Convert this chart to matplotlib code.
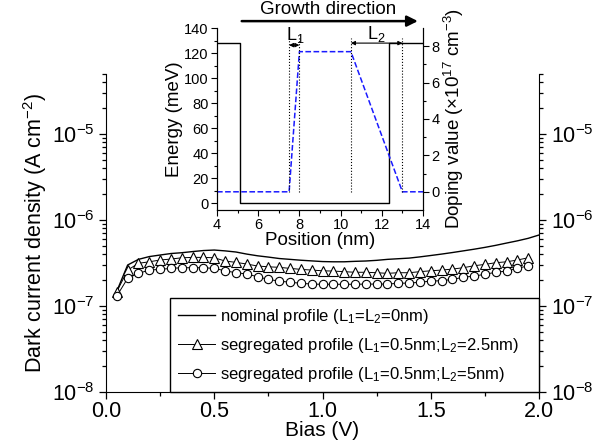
import matplotlib
matplotlib.use("Agg")
import matplotlib.pyplot as plt
import numpy as np

plt.rcParams['font.family'] = ['Liberation Sans', 'DejaVu Sans']
plt.rcParams['mathtext.fontset'] = 'custom'
plt.rcParams['mathtext.rm'] = 'Liberation Sans'
plt.rcParams['mathtext.it'] = 'Liberation Sans:italic'
plt.rcParams['mathtext.bf'] = 'Liberation Sans:bold'

# main chart data: bias (V) and dark current density (A cm^-2)
bias = [0.05, 0.10, 0.15, 0.20, 0.25, 0.30, 0.35, 0.40, 0.45, 0.50,
        0.55, 0.60, 0.65, 0.70, 0.75, 0.80, 0.85, 0.90, 0.95, 1.00,
        1.05, 1.10, 1.15, 1.20, 1.25, 1.30, 1.35, 1.40, 1.45, 1.50,
        1.55, 1.60, 1.65, 1.70, 1.75, 1.80, 1.85, 1.90, 1.95, 2.00]
nominal = [1.49e-7, 3.00e-7, 3.49e-7, 3.76e-7, 3.92e-7, 4.08e-7, 4.17e-7, 4.30e-7, 4.42e-7, 4.48e-7,
           4.38e-7, 4.25e-7, 4.02e-7, 3.84e-7, 3.71e-7, 3.57e-7, 3.49e-7, 3.41e-7, 3.35e-7, 3.29e-7,
           3.27e-7, 3.27e-7, 3.31e-7, 3.34e-7, 3.40e-7, 3.49e-7, 3.55e-7, 3.61e-7, 3.73e-7, 3.87e-7,
           4.02e-7, 4.19e-7, 4.38e-7, 4.58e-7, 4.81e-7, 5.08e-7, 5.40e-7, 5.73e-7, 6.13e-7, 6.70e-7]
bias_seg = bias[:-1]
seg_25 = [1.47e-7, 2.62e-7, 3.14e-7, 3.27e-7, 3.43e-7, 3.52e-7, 3.64e-7, 3.68e-7, 3.68e-7, 3.64e-7,
          3.34e-7, 3.22e-7, 3.08e-7, 2.92e-7, 2.86e-7, 2.82e-7, 2.74e-7, 2.67e-7, 2.62e-7, 2.57e-7,
          2.55e-7, 2.51e-7, 2.47e-7, 2.47e-7, 2.44e-7, 2.40e-7, 2.44e-7, 2.44e-7, 2.51e-7, 2.57e-7,
          2.62e-7, 2.69e-7, 2.79e-7, 2.94e-7, 3.05e-7, 3.19e-7, 3.27e-7, 3.43e-7, 3.64e-7]
seg_5 = [1.31e-7, 2.10e-7, 2.40e-7, 2.62e-7, 2.67e-7, 2.74e-7, 2.79e-7, 2.79e-7, 2.79e-7, 2.74e-7,
         2.57e-7, 2.44e-7, 2.36e-7, 2.19e-7, 2.04e-7, 1.95e-7, 1.89e-7, 1.84e-7, 1.80e-7, 1.79e-7,
         1.79e-7, 1.79e-7, 1.79e-7, 1.80e-7, 1.80e-7, 1.80e-7, 1.84e-7, 1.85e-7, 1.89e-7, 1.95e-7,
         1.97e-7, 2.04e-7, 2.16e-7, 2.23e-7, 2.34e-7, 2.47e-7, 2.55e-7, 2.74e-7, 2.94e-7]

# inset data: band profile and doping profile
pos_band = [4, 5.1, 5.1, 12.35, 12.35, 14]
energy = [128, 128, 0, 0, 128, 128]
pos_dop = [4, 7.5, 8.0, 10.5, 13.0, 14]
doping = [0, 0, 7.7, 7.7, 0, 0]
marks = [7.5, 8.0, 10.5, 13.0]

fig = plt.figure(figsize=(6.08, 4.47), dpi=100)
ax = fig.add_axes([106/608, 1-392/447, 433/608, 318/447])

ax.plot(bias, nominal, '-', color='k', lw=1.0, label='nominal profile (L$_1$=L$_2$=0nm)')
ax.plot(bias_seg, seg_25, '-^', color='k', lw=0.7, ms=6.5, mfc='white', mew=0.8,
        label='segregated profile (L$_1$=0.5nm;L$_2$=2.5nm)')
ax.plot(bias_seg, seg_5, '-o', color='k', lw=0.7, ms=6, mfc='white', mew=0.8,
        label='segregated profile (L$_1$=0.5nm;L$_2$=5nm)')

ax.set_yscale('log')
ax.set_xlim(0, 2.0)
ax.set_ylim(1e-8, 5e-5)
ax.set_xticks([0, 0.5, 1.0, 1.5, 2.0])
ax.set_xticks([0.25, 0.75, 1.25, 1.75], minor=True)
ax.set_xticklabels(['0.0', '0.5', '1.0', '1.5', '2.0'])
ax.spines['top'].set_visible(False)
ax.tick_params(which='both', direction='out', top=False, right=True, labelright=True,
               labelsize=15.5, width=0.9)
ax.tick_params(which='major', length=5)
ax.tick_params(which='minor', length=3)
ax.tick_params(axis='x', pad=1.5)
ax.set_xlabel('Bias (V)', fontsize=15, labelpad=-1)
ax.set_ylabel('Dark current density (A cm$^{-2}$)', fontsize=15.5, labelpad=2)

leg = ax.legend(loc='lower left', bbox_to_anchor=(0.148, 0, 0.852, 0.292), mode='expand',
                borderaxespad=0, fancybox=False, edgecolor='k', fontsize=12,
                handlelength=2.2, handletextpad=0.3, labelspacing=0.6, borderpad=0.5)
leg.get_frame().set_linewidth(1.0)
leg.get_frame().set_alpha(1)

# inset
axi = fig.add_axes([217/608, 1-210/447, 206/608, 182/447])
axi.plot(pos_band, energy, '-', color='k', lw=1.0)
axi.set_xlim(4, 14)
axi.set_ylim(-5.4, 140)
axi.set_xticks(np.arange(4, 15, 2))
axi.set_xticks(np.arange(5, 14, 2), minor=True)
axi.set_yticks(np.arange(0, 141, 20))
axi.set_yticks(np.arange(10, 140, 20), minor=True)
axi.spines['top'].set_visible(False)
axi.tick_params(which='both', direction='out', top=False, labelsize=10.5, width=0.8, pad=2)
axi.tick_params(which='major', length=4)
axi.tick_params(which='minor', length=2)
axi.set_xlabel('Position (nm)', fontsize=13.5, labelpad=0)
axi.set_ylabel('Energy (meV)', fontsize=13.5, labelpad=1)

axd = axi.twinx()
axd.plot(pos_dop, doping, '--', color='#1a1aff', lw=1.1)
for m in marks:
    axd.plot([m, m], [0, 8.45], ':', color='k', lw=0.8)
axd.set_ylim(-1, 9)
axd.set_yticks([0, 2, 4, 6, 8])
axd.set_yticks([1, 3, 5, 7], minor=True)
axd.spines['top'].set_visible(False)
axd.tick_params(which='both', direction='out', labelsize=10.5, width=0.8, pad=2)
axd.tick_params(which='major', length=4)
axd.tick_params(which='minor', length=2)
axd.set_ylabel('Doping value (\u00d710$^{17}$ cm$^{-3}$)', fontsize=13.5, labelpad=2)

axd.annotate('', xy=(marks[1], 8.06), xytext=(marks[0], 8.06),
             arrowprops=dict(arrowstyle='<|-|>', color='k', lw=0.8, mutation_scale=6,
                             shrinkA=0, shrinkB=0))
axd.annotate('', xy=(marks[3], 8.17), xytext=(marks[2], 8.17),
             arrowprops=dict(arrowstyle='<|-|>', color='k', lw=0.8, mutation_scale=6,
                             shrinkA=0, shrinkB=0))
axd.text(7.8, 8.35, 'L$_1$', fontsize=13, ha='center', va='baseline')
axd.text(11.75, 8.4, 'L$_2$', fontsize=13, ha='center', va='baseline')

axi.annotate('', xy=(13.75, 145.5), xytext=(5.2, 145.5), annotation_clip=False,
             arrowprops=dict(arrowstyle='-|>', color='k', lw=1.8, mutation_scale=16,
                             shrinkA=0, shrinkB=0))
axi.text(9.4, 148, 'Growth direction', fontsize=13.5, ha='center', va='bottom')

fig.savefig('out.png', dpi=100)
